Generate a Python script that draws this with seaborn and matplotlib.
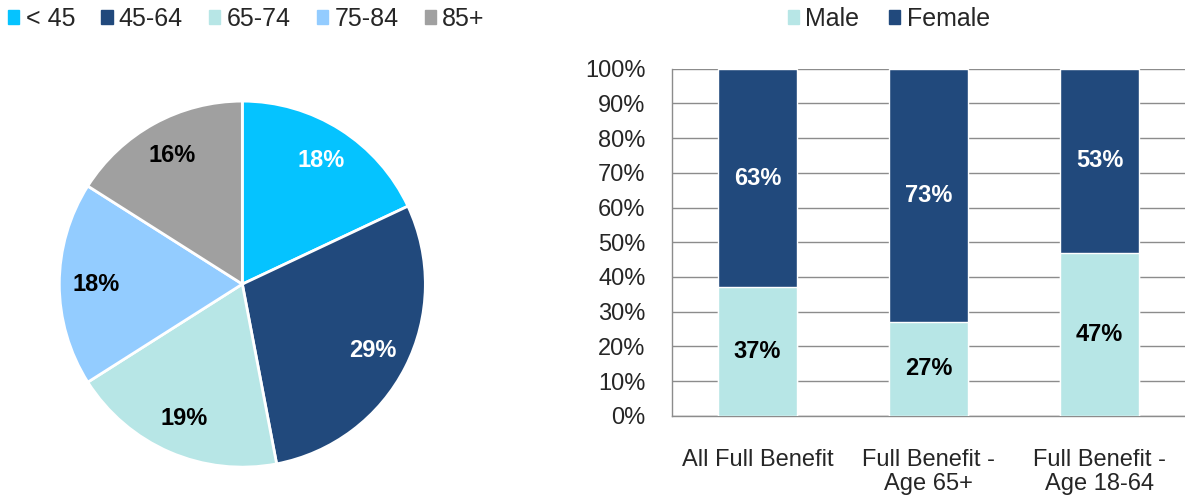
import matplotlib
matplotlib.use("Agg")
import matplotlib.pyplot as plt
import matplotlib.patches as mpatches
import seaborn as sns
import pandas as pd

# age split of full benefit enrollees (pie)
age_groups = ["< 45", "45-64", "65-74", "75-84", "85+"]
age_share = [18, 29, 19, 18, 16]
age_colors = ["#05C3FF", "#21497C", "#B7E6E6", "#93CCFF", "#A0A0A0"]
age_label_colors = ["white", "white", "black", "black", "black"]

# gender split by group (stacked bars)
groups = ["All Full Benefit", "Full Benefit -\nAge 65+", "Full Benefit -\nAge 18-64"]
male = [37, 27, 47]
female = [63, 73, 53]
male_color = "#B7E6E6"
female_color = "#21497C"

sns.set_style("white")
plt.rcParams["font.family"] = ["Liberation Sans", "DejaVu Sans"]

fig = plt.figure(figsize=(11.85, 4.98), dpi=100)

# pie
ax1 = fig.add_axes([0.050, 0.062, 0.309, 0.735])
wedges, texts, autotexts = ax1.pie(
    age_share, colors=age_colors, startangle=90, counterclock=False,
    autopct="%d%%", pctdistance=0.8,
    wedgeprops=dict(edgecolor="white", linewidth=2),
    textprops=dict(fontsize=17, fontweight="bold"))
for t, c in zip(autotexts, age_label_colors):
    t.set_color(c)
ax1.set_xlim(-1, 1)
ax1.set_ylim(-1, 1)
ax1.set_aspect("equal")

handles = [mpatches.Patch(color=c, label=l) for c, l in zip(age_colors, age_groups)]
fig.legend(handles=handles, loc="center left", bbox_to_anchor=(-0.008, 0.962),
           ncol=5, frameon=False, fontsize=18, handlelength=0.45, handleheight=0.5,
           handletextpad=0.25, columnspacing=1.05, borderpad=0.2)

# stacked bars
ax2 = fig.add_axes([0.567, 0.165, 0.433, 0.697])
df = pd.DataFrame({"group": groups, "male": male, "female": female})
df["total"] = df["male"] + df["female"]
sns.barplot(data=df, x="group", y="total", color=female_color, width=0.46,
            saturation=1, ax=ax2, zorder=3, edgecolor="white", linewidth=1)
sns.barplot(data=df, x="group", y="male", color=male_color, width=0.46,
            saturation=1, ax=ax2, zorder=3, edgecolor="white", linewidth=1)

for i in range(len(groups)):
    ax2.text(i, male[i] / 2, f"{male[i]}%", ha="center", va="center",
             fontsize=17, fontweight="bold", color="black", zorder=4)
    ax2.text(i, male[i] + female[i] / 2, f"{female[i]}%", ha="center", va="center",
             fontsize=17, fontweight="bold", color="white", zorder=4)

ax2.set_xlim(-0.5, 2.5)
ax2.set_ylim(0, 100)
ax2.set_yticks(range(0, 101, 10))
ax2.set_yticklabels([f"{v}%" for v in range(0, 101, 10)], fontsize=17)
ax2.set_xticks(range(3))
ax2.set_xticklabels(groups, fontsize=17, linespacing=1.1)
ax2.set_xticks([-0.5, 0.5, 1.5], minor=True)
ax2.tick_params(axis="x", which="major", length=0, pad=24)
ax2.tick_params(axis="x", which="minor", length=6, color="#8C8C8C", width=1)
ax2.tick_params(axis="y", length=7, color="#8C8C8C", width=1, pad=12)
ax2.set_xlabel("")
ax2.set_ylabel("")
ax2.yaxis.grid(True, color="#8C8C8C", linewidth=1)
ax2.set_axisbelow(True)
for s in ["top", "right"]:
    ax2.spines[s].set_visible(False)
for s in ["left", "bottom"]:
    ax2.spines[s].set_color("#8C8C8C")
    ax2.spines[s].set_linewidth(1)

handles2 = [mpatches.Patch(color=male_color, label="Male"),
            mpatches.Patch(color=female_color, label="Female")]
fig.legend(handles=handles2, loc="center", bbox_to_anchor=(0.750, 0.962),
           ncol=2, frameon=False, fontsize=18, handlelength=0.45, handleheight=0.5,
           handletextpad=0.25, columnspacing=1.2, borderpad=0.2)

fig.savefig("out.png", dpi=100)
